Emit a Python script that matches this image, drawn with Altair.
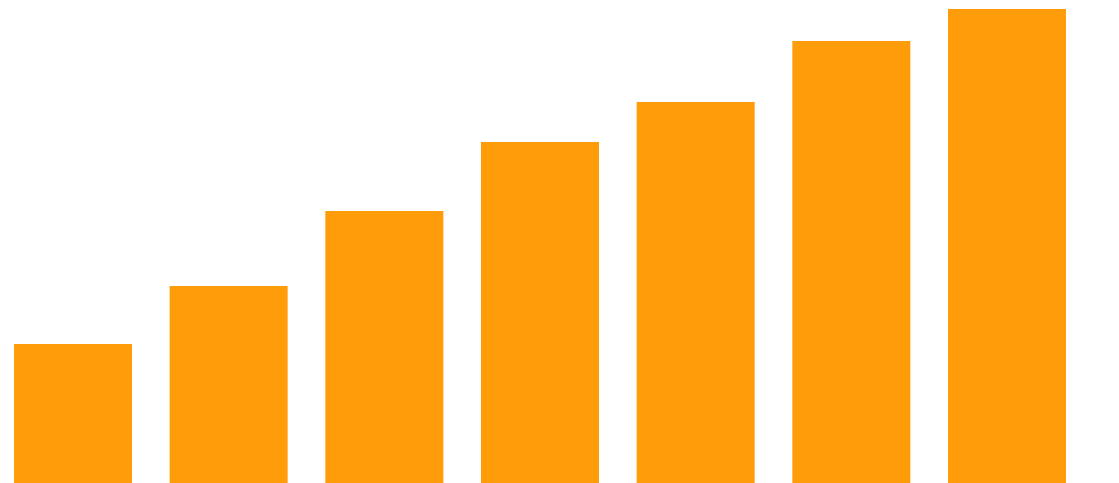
import altair as alt
import pandas as pd

categories = ["A", "B", "C", "D", "E", "F", "G"]
values = [139, 197, 272, 341, 381, 442, 474]

df = pd.DataFrame({"category": categories, "value": values})

chart = (
    alt.Chart(df)
    .mark_bar(color="#FE9C09")
    .encode(
        x=alt.X("category:N", sort=None, axis=None,
                scale=alt.Scale(paddingInner=0.242, paddingOuter=0.0385)),
        y=alt.Y("value:Q", axis=None, scale=alt.Scale(domain=[0, 475], nice=False, zero=True)),
    )
    .properties(width=1064, height=475, padding=0, autosize=alt.AutoSizeParams(type="none"))
    .configure_view(stroke=None)
)

chart.save("out.html", embed_options={"renderer": "svg", "actions": False})
